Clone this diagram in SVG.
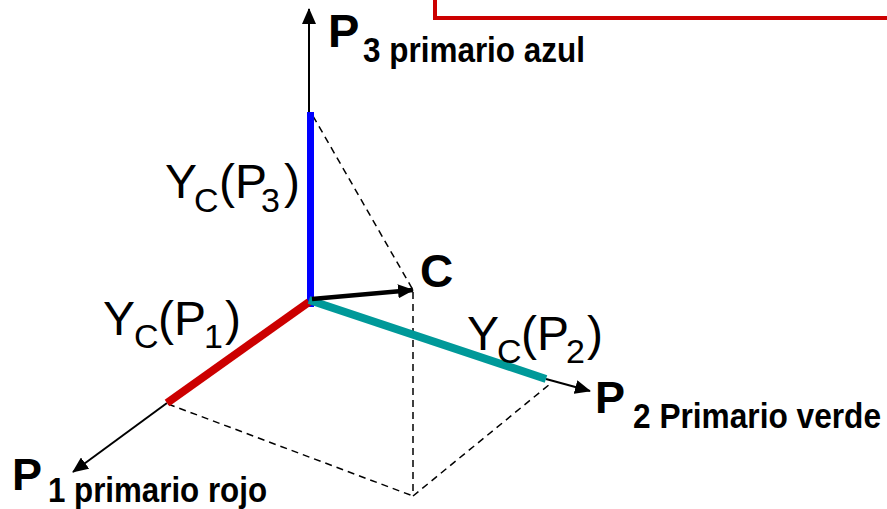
<svg xmlns="http://www.w3.org/2000/svg" width="887" height="509" viewBox="0 0 887 509">
<style>
.ax{stroke:#000;stroke-width:2;fill:none}
.dash{stroke:#000;stroke-width:1.5;stroke-dasharray:7,5;fill:none}
.lbl{font-family:"Liberation Sans",Arial,sans-serif;font-weight:bold;fill:#000}
.yc{font-family:"Liberation Sans",Arial,sans-serif;font-size:48px;fill:#000}
.sub{font-size:34px}
</style>
<defs>
<marker id="ah" viewBox="0 0 16 14" refX="15" refY="7" markerWidth="16" markerHeight="14" markerUnits="userSpaceOnUse" orient="auto">
<path d="M0,0 L16,7 L0,14 z" fill="#000"/>
</marker>
</defs>
<rect x="435" y="-10" width="470" height="28" fill="none" stroke="#CC0000" stroke-width="4"/>
<g id="connectors">
<line class="dash" x1="313" y1="116" x2="413" y2="290"/>
<line class="dash" x1="413" y1="292" x2="413" y2="496"/>
<line class="dash" x1="168" y1="404" x2="413" y2="496"/>
<line class="dash" x1="413" y1="496" x2="550" y2="384"/>
<line class="ax" x1="309" y1="112" x2="309" y2="9" marker-end="url(#ah)"/>
<line class="ax" x1="167" y1="403" x2="73" y2="472" marker-end="url(#ah)"/>
<line class="ax" x1="546" y1="379" x2="590" y2="391" marker-end="url(#ah)"/>
<line x1="310.5" y1="112" x2="310.5" y2="307" stroke="#0000FF" stroke-width="7"/>
<line x1="309" y1="302" x2="167" y2="403" stroke="#CC0000" stroke-width="8"/>
<line x1="309" y1="300" x2="546" y2="379" stroke="#009999" stroke-width="8"/>
<line x1="312" y1="299" x2="413" y2="290" stroke="#000" stroke-width="4.5" marker-end="url(#ah)"/>
</g>
<g id="P3">
<text class="lbl" x="328" y="47" font-size="47">P</text>
<text class="lbl" x="363" y="62" font-size="35" textLength="222" lengthAdjust="spacingAndGlyphs">3 primario azul</text>
</g>
<g id="P2">
<text class="lbl" x="595" y="413" font-size="45">P</text>
<text class="lbl" x="633" y="428" font-size="35" textLength="248" lengthAdjust="spacingAndGlyphs">2 Primario verde</text>
</g>
<g id="P1">
<text class="lbl" x="12" y="490" font-size="45">P</text>
<text class="lbl" x="48" y="502" font-size="35" textLength="219" lengthAdjust="spacingAndGlyphs">1 primario rojo</text>
</g>
<g id="C">
<text class="lbl" x="420" y="287" font-size="46">C</text>
</g>
<g id="YcP3">
<text class="yc"><tspan x="165" y="198">Y</tspan><tspan class="sub" x="194" y="212">C</tspan><tspan x="219" y="198">(P</tspan><tspan class="sub" x="261" y="212">3</tspan><tspan x="284" y="198">)</tspan></text>
</g>
<g id="YcP1">
<text class="yc"><tspan x="103" y="335">Y</tspan><tspan class="sub" x="134" y="348">C</tspan><tspan x="158" y="335">(P</tspan><tspan class="sub" x="204" y="348">1</tspan><tspan x="225" y="335">)</tspan></text>
</g>
<g id="YcP2">
<text class="yc"><tspan x="467" y="350">Y</tspan><tspan class="sub" x="497" y="363">C</tspan><tspan x="521" y="350">(P</tspan><tspan class="sub" x="566" y="363">2</tspan><tspan x="587" y="350">)</tspan></text>
</g>
</svg>
